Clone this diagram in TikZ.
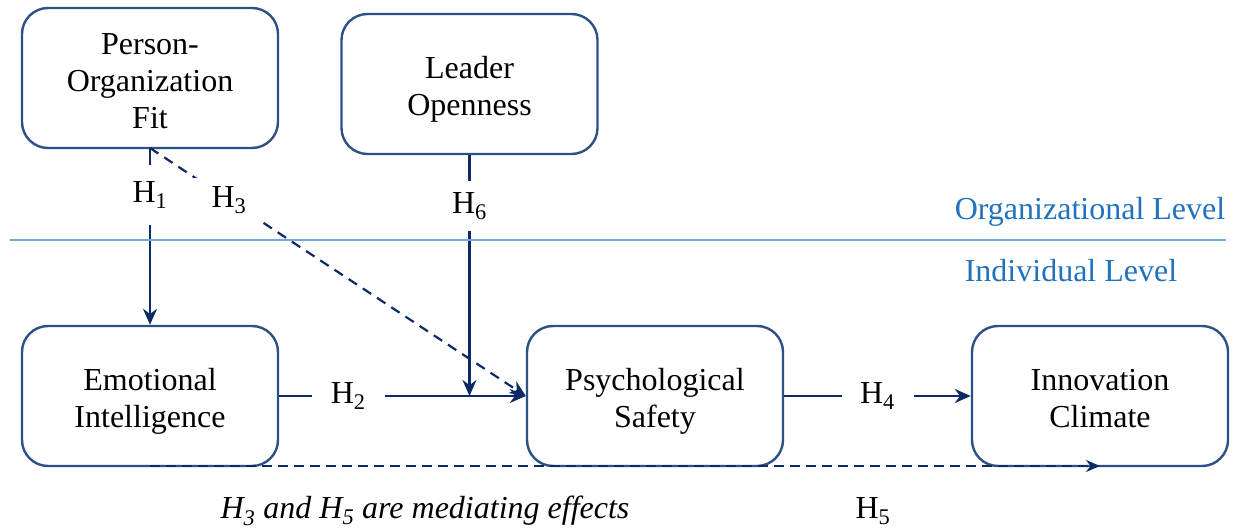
\documentclass[tikz,border=0pt]{standalone}
\usepackage{fontspec}
\setmainfont{Liberation Serif}
\newfontfamily\timesfont{Liberation Serif}
\usetikzlibrary{arrows.meta}
\definecolor{boxblue}{HTML}{2E5185}
\definecolor{arrownavy}{HTML}{0E2A66}
\definecolor{levelblue}{HTML}{1F73BE}
\definecolor{levelline}{HTML}{6FA8DC}
\newcommand{\bigtext}{\timesfont\fontsize{32}{37}\selectfont}
% taller first line so the block of text sits a little low in its box
\newcommand{\toppad}{\rule{0pt}{38pt}}
\begin{document}
\begin{tikzpicture}[x=1pt,y=-1pt,
  concept/.style={draw=boxblue, line width=2.4pt, rounded corners=26pt, fill=white,
    minimum width=256pt, minimum height=140pt, align=center,
    font=\bigtext, inner sep=0pt},
  link/.style={draw=arrownavy, line width=2.2pt, -{Stealth[length=16pt,width=14pt]}},
  dashlink/.style={link, dash pattern=on 10pt off 7pt},
  hlabel/.style={fill=white, inner sep=0pt, font=\bigtext},
  plain/.style={inner sep=0pt, font=\bigtext},
  level/.style={text=levelblue, font=\bigtext, inner sep=0pt}]
\useasboundingbox (0,0) rectangle (1236,529);

% constructs
\node[concept] (pof) at (150,78) {\toppad Person-\\Organization\\Fit\strut};
\node[concept] (lo) at (469.5,84) {\toppad Leader\\Openness\strut};
\node[concept] (ei) at (150,396) {\toppad Emotional\\Intelligence\strut};
\node[concept] (ps) at (655,396) {\toppad Psychological\\Safety\strut};
\node[concept] (ic) at (1100,396) {\toppad Innovation\\Climate\strut};

% hypothesised paths
\coordinate (pofs) at (150,148);
\coordinate (h6end) at (469.5,396);
\draw[link] (pofs) -- node[hlabel, pos=0.265, minimum width=40pt, minimum height=60pt] (h1) {H\textsubscript{1}} (ei.north);
\draw[dashlink] (pofs) -- node[hlabel, pos=0.21, minimum width=70pt, minimum height=44pt] (h3) {H\textsubscript{3}} (ps.west);
\draw[link] (lo.south) -- node[hlabel, pos=0.21, minimum width=40pt, minimum height=50pt] (h6) {H\textsubscript{6}} (h6end);
\draw[link] (ei.east) -- node[hlabel, pos=0.28, minimum width=73pt, minimum height=30pt] (h2) {H\textsubscript{2}} (ps.west);
\draw[link] (ps.east) -- node[hlabel, minimum width=72pt, minimum height=30pt] (h4) {H\textsubscript{4}} (ic.west);

% mediated path along the bottom edges
\coordinate (h5start) at (150,466);
\coordinate (h5end) at (1100,466);
\draw[draw=arrownavy, line width=2.2pt, dash pattern=on 10pt off 6pt,
  -{Stealth[length=14pt,width=12pt]}] (h5start) -- (h5end);
\node[plain] (h5) at (873,511) {H\textsubscript{5}};

\node[plain, font=\bigtext\itshape] (note) at (425,511)
  {H\textsubscript{3} and H\textsubscript{5} are mediating effects};

% level separator
\coordinate (sepl) at (10,240);
\coordinate (sepr) at (1226,240);
\draw[levelline, line width=1.3pt] (sepl) -- (sepr);
\node[level] (orglvl) at (1090,212) {Organizational Level};
\node[level] (indlvl) at (1071,271) {Individual Level};
\end{tikzpicture}
\end{document}
